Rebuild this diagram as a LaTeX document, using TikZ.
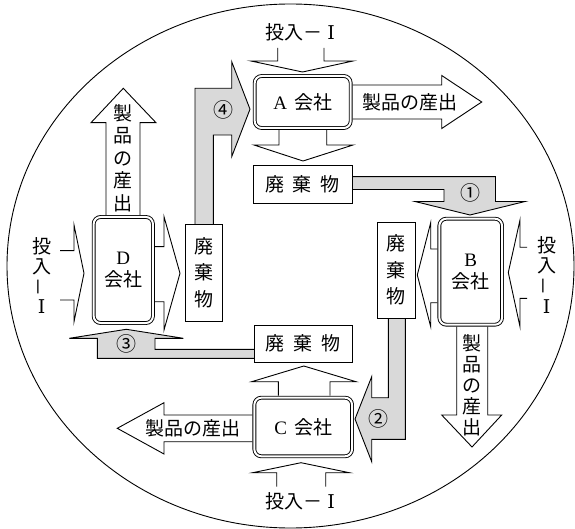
\documentclass[tikz,border=0pt]{standalone}
\usepackage{fontspec}
\usepackage{graphicx}
\setmainfont{Liberation Serif}
\newfontfamily\jp{Noto Sans CJK JP}
\newfontfamily\rn{DejaVu Serif}
\newcommand{\RomI}{{\rn\fontsize{19}{19}\selectfont Ⅰ}}
\tikzset{
  ln/.style={line width=0.9pt, line join=miter},
  blk/.style={ln, fill=white},
  pipe/.style={ln, fill=black!15},
  cbox/.style={draw, double, double distance=2pt, line width=0.9pt, rounded corners=7pt,
    fill=white, inner sep=0pt, align=center, font=\fontsize{19}{22}\selectfont},
  wbox/.style={draw, line width=0.9pt, fill=white, inner sep=0pt, align=center,
    font=\jp\fontsize{19}{26.5}\selectfont},
  lbl/.style={inner sep=0pt, align=center, font=\jp\fontsize{19}{20.5}\selectfont},
  num/.style={inner sep=0pt, font=\jp\fontsize{20}{20}\selectfont},
}
\begin{document}
\begin{tikzpicture}[x=1pt,y=-1pt]
\useasboundingbox (0,0) rectangle (575,529);
\draw[ln] (290.5,266) ellipse [x radius=283.5pt, y radius=262pt];

% A arrows
\draw[blk] (277.7,48) -- (277.7,61) -- (251,61) -- (302.5,72) -- (353,61) -- (324,61) -- (324,48);
\draw[blk] (352.7,85) -- (441.7,85) -- (441.7,75.5) -- (481.7,102) -- (441.7,128.5) -- (441.7,119) -- (352.7,119);
\draw[blk] (279,130) -- (279,145) -- (254,145) -- (303,161) -- (353,145) -- (326.7,145) -- (326.7,130);

% pipe 1
\draw[pipe] (351.7,176.7) -- (495.5,176.7) -- (495.5,201.5) -- (525,201.5) -- (470,215) -- (415,201.5) -- (444,201.5) -- (444,189.5) -- (351.7,189.5);

% B arrows
\draw[blk] (527,247.3) -- (520,247.3) -- (520,220) -- (508.3,272.5) -- (520,326.7) -- (520,298.3) -- (527,298.3);
\draw[blk] (437.3,249) -- (430.7,249) -- (430.7,222.7) -- (417.3,275) -- (430.7,326.7) -- (430.7,302.7) -- (437.3,302.7);
\draw[blk] (456.7,326.7) -- (456.7,415) -- (441.7,415) -- (472,447) -- (501.7,415) -- (487.7,415) -- (487.7,326.7);

% pipe 2
\draw[pipe] (388.3,318.3) -- (388.3,397.7) -- (371.7,397.7) -- (371.7,376.7) -- (355,419) -- (371.7,461.7) -- (371.7,439.3) -- (405.3,439.3) -- (405.3,318.3);

% C arrows
\draw[blk] (252.3,415) -- (164,415) -- (164,402.7) -- (117.3,428.3) -- (164,454) -- (164,441.7) -- (252.3,441.7);
\draw[blk] (278.3,395.7) -- (278.3,381.7) -- (251.7,381.7) -- (303.8,366) -- (356,381.7) -- (330,381.7) -- (330,395.7);
\draw[blk] (276.7,486.7) -- (276.7,472.7) -- (252.7,472.7) -- (301,462.7) -- (349.3,472.7) -- (325.7,472.7) -- (325.7,486.7);

% pipe 3
\draw[pipe] (254,349.3) -- (155,349.3) -- (155,338.3) -- (183.3,338.3) -- (126.3,329.3) -- (69.3,338.3) -- (97.3,338.3) -- (97.3,358.3) -- (254,358.3);

% D arrows
\draw[blk] (106,215) -- (106,122.7) -- (91,122.7) -- (123.3,88.3) -- (156,122.7) -- (140,122.7) -- (140,215);
\draw[blk] (60,250.7) -- (74,250.7) -- (74,225) -- (84,273.3) -- (74,321.7) -- (74,300) -- (60,300);
\draw[blk] (155,246.7) -- (164,246.7) -- (164,216.7) -- (180,273.3) -- (164,330) -- (164,301.7) -- (155,301.7);

% pipe 4
\draw[pipe] (213.3,224.5) -- (213.3,135) -- (231.7,135) -- (231.7,156.7) -- (250,109.2) -- (231.7,61.7) -- (231.7,88.3) -- (195,88.3) -- (195,224.5);

% company boxes
\node[cbox, minimum width=96, minimum height=52] (A) at (302.7,102) {A\hspace{7pt}{\jp 会社}};
\node[cbox, minimum width=62.7, minimum height=106] (B) at (470.7,271.7) {B\\{\jp 会社}};
\node[cbox, minimum width=97.7, minimum height=58.6] (C) at (303.2,427) {C\hspace{7pt}{\jp 会社}};
\node[cbox, minimum width=59.3, minimum height=106] (D) at (123.3,270) {D\\{\jp 会社}};

% waste boxes
\node[wbox, minimum width=99, minimum height=38] (wA) at (302.5,184) {廃\hspace{9pt}棄\hspace{9pt}物};
\node[wbox, minimum width=38.5, minimum height=96] (wB) at (396.2,270.2) {廃\\棄\\物};
\node[wbox, minimum width=98.3, minimum height=37.7] (wC) at (303.1,343.8) {廃\hspace{9pt}棄\hspace{9pt}物};
\node[wbox, minimum width=37.5, minimum height=96.5] (wD) at (203.7,272.7) {廃\\棄\\物};

% input labels
\node[lbl] (inA) at (300,32) {投入－\hspace{5pt}\RomI};
\node[lbl] (inC) at (300,501.7) {投入－\hspace{5pt}\RomI};
\node[lbl] (inB) at (546.7,255.2) {投\\入};
\node[lbl, rotate=90] (inBd) at (546.7,286) {－};
\node[lbl] (inBi) at (546.7,306.7) {\RomI};
\node[lbl] (inD) at (41.7,256.5) {投\\入};
\node[lbl, rotate=90] (inDd) at (41.7,286.7) {－};
\node[lbl] (inDi) at (41.7,306.7) {\RomI};

% product labels
\node[lbl] (pA) at (410,102) {製品の産出};
\node[lbl] (pC) at (193.3,428.3) {製品の産出};
\node[lbl, font=\jp\fontsize{19}{22.5}\selectfont] (pD) at (123.3,158) {製\\品\\の\\産\\出};
\node[lbl, font=\jp\fontsize{19}{21}\selectfont] (pB) at (472,385) {製\\品\\の\\産\\出};

% numbers
\node[num] (n1) at (470,193) {①};
\node[num] (n2) at (378.3,419) {②};
\node[num] (n3) at (126.7,343.5) {③};
\node[num] (n4) at (223.3,110) {④};
\end{tikzpicture}
\end{document}
